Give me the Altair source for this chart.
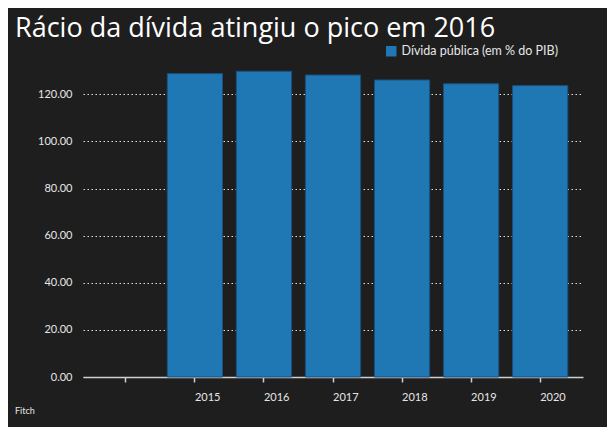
import altair as alt
import pandas as pd

years = ["2015", "2016", "2017", "2018", "2019", "2020"]
debt = [128.8, 129.8, 128.2, 126.1, 124.5, 123.7]
series_name = "Dívida pública (em % do PIB)"
title_text = "Rácio da dívida atingiu o pico em 2016"
source_text = "Fitch"
x_domain = ["_"] + years
y_ticks = [0, 20, 40, 60, 80, 100, 120]

df = pd.DataFrame({"ano": years, "valor": debt, "serie": [series_name] * len(years)})
src_df = pd.DataFrame({"t": [source_text]})

W, H = 500, 318
FONT = "Lato"
BG = "#1e1e1e"
TXT = "#e6e6e6"

bars = alt.Chart(df).mark_bar(stroke="#1b4f7c", strokeWidth=1).encode(
    x=alt.X(
        "ano:N",
        scale=alt.Scale(domain=x_domain, paddingInner=0.2, paddingOuter=0.22),
        axis=alt.Axis(
            title=None, labelAngle=0, labelAlign="left", labelBaseline="top",
            labelPadding=9, tickSize=5, grid=False,
            labelExpr="datum.value == '_' ? '' : datum.value",
            domainColor="#cfcfcf", domainWidth=1.5, tickColor="#cfcfcf", tickWidth=1.5,
            labelColor=TXT, labelFontSize=11, labelFont=FONT,
        ),
    ),
    y=alt.Y(
        "valor:Q",
        scale=alt.Scale(domain=[0, 135], nice=False),
        axis=alt.Axis(
            title=None, values=y_ticks, format=".2f", domain=False, ticks=False,
            labelPadding=11, gridDash=[1.5, 2.5], gridColor="#dddddd", gridWidth=1,
            labelColor=TXT, labelFontSize=11, labelFont=FONT,
        ),
    ),
    color=alt.Color(
        "serie:N",
        scale=alt.Scale(range=["#1f77b4"]),
        legend=alt.Legend(
            title=None, orient="none", legendX=302, legendY=-14,
            symbolType="square", symbolSize=110, symbolStrokeWidth=0,
            labelColor=TXT, labelFontSize=12.5, labelFont=FONT,
        ),
    ),
)

src = alt.Chart(src_df).mark_text(
    align="left", baseline="middle", color=TXT, fontSize=9, font=FONT
).encode(x=alt.value(-68), y=alt.value(H + 34), text="t:N")

chart = alt.layer(bars, src).properties(
    width=W,
    height=H,
    title=alt.TitleParams(
        title_text, anchor="start", frame="group", dx=-68, dy=2,
        color="#ffffff", fontSize=27, font="Open Sans", fontWeight="normal",
    ),
    background=BG,
    padding={"left": 75, "top": 51, "right": 24, "bottom": 50},
    autosize="none",
).configure_view(stroke=None)

chart.save("out.html", embed_options={"renderer": "svg", "actions": False})
